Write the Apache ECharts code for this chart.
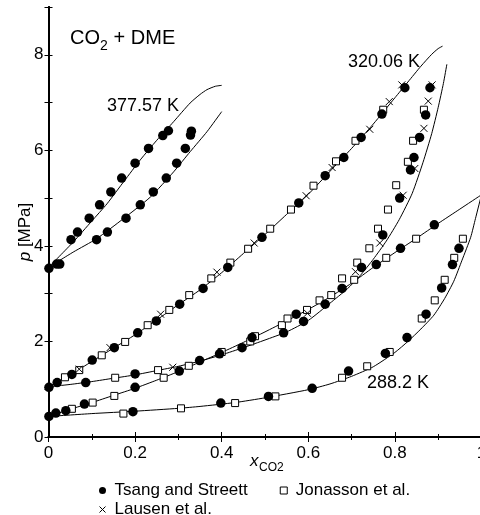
<!DOCTYPE html>
<html>
<head>
<meta charset="utf-8">
<script src="https://cdn.jsdelivr.net/npm/echarts@6/dist/echarts.min.js"></script>
<style>
  html, body { margin: 0; padding: 0; background: #fff; }
  #chart { width: 480px; height: 515px; }
</style>
</head>
<body>
<div id="chart"></div>
<script>
'use strict';

// tick values
var xTicks = [0, 0.2, 0.4, 0.6, 0.8, 1];
var yTicks = [0, 2, 4, 6, 8];

// Tsang and Streett (filled circles), [x_CO2, p MPa]
var tsang = [
  [0.001, 3.53], [0.019, 3.62], [0.026, 3.62],
  [0.052, 4.13], [0.067, 4.29], [0.094, 4.58], [0.118, 4.86], [0.144, 5.13],
  [0.169, 5.42], [0.200, 5.73], [0.231, 6.04], [0.264, 6.31], [0.277, 6.41],
  [0.111, 4.13], [0.136, 4.29], [0.179, 4.58], [0.212, 4.86], [0.242, 5.13],
  [0.272, 5.42], [0.296, 5.73], [0.316, 6.04], [0.328, 6.32], [0.330, 6.40],
  [0.001, 1.04], [0.020, 1.14], [0.054, 1.31], [0.101, 1.61], [0.152, 1.87],
  [0.206, 2.18], [0.249, 2.43], [0.303, 2.78], [0.357, 3.11], [0.414, 3.55],
  [0.493, 4.18], [0.578, 4.90], [0.639, 5.47], [0.682, 5.85], [0.722, 6.27],
  [0.770, 6.76], [0.823, 7.31],
  [0.086, 1.14], [0.200, 1.32], [0.349, 1.60], [0.447, 1.87], [0.543, 2.18],
  [0.589, 2.42], [0.639, 2.78], [0.678, 3.11], [0.723, 3.55], [0.772, 4.23],
  [0.811, 5.00], [0.836, 5.59], [0.844, 5.85], [0.857, 6.27], [0.871, 6.74],
  [0.881, 7.31],
  [0.001, 0.43], [0.017, 0.50], [0.040, 0.55], [0.083, 0.69], [0.200, 1.04],
  [0.302, 1.38], [0.395, 1.74], [0.470, 2.08], [0.572, 2.57], [0.757, 3.61],
  [0.813, 3.95], [0.891, 4.44],
  [0.195, 0.53], [0.398, 0.71], [0.508, 0.85], [0.609, 1.02], [0.693, 1.38],
  [0.778, 1.75], [0.828, 2.08], [0.872, 2.57], [0.908, 3.12], [0.933, 3.61],
  [0.948, 3.95]
];

// Jonasson et al. (open squares)
var jonasson = [
  [0.038, 1.25], [0.071, 1.40], [0.123, 1.71], [0.177, 1.99], [0.229, 2.34],
  [0.279, 2.66], [0.325, 2.97], [0.376, 3.32], [0.420, 3.65], [0.461, 3.94],
  [0.512, 4.36], [0.560, 4.76], [0.612, 5.26], [0.664, 5.77], [0.709, 6.20],
  [0.773, 6.85],
  [0.154, 1.24], [0.253, 1.40], [0.324, 1.49], [0.466, 2.00], [0.539, 2.34],
  [0.552, 2.48], [0.597, 2.66], [0.626, 2.86], [0.653, 2.97], [0.678, 3.32],
  [0.706, 3.29], [0.713, 3.65], [0.741, 3.95], [0.761, 4.36], [0.784, 4.76],
  [0.803, 5.27], [0.830, 5.76], [0.842, 6.20], [0.867, 6.85],
  [0.054, 0.59], [0.102, 0.72], [0.152, 0.86], [0.266, 1.24], [0.400, 1.78],
  [0.477, 2.11], [0.780, 3.75], [0.849, 4.15],
  [0.173, 0.49], [0.306, 0.60], [0.431, 0.71], [0.524, 0.85], [0.678, 1.24],
  [0.736, 1.48], [0.788, 1.78], [0.862, 2.48], [0.892, 2.86], [0.915, 3.29],
  [0.937, 3.75], [0.957, 4.15]
];

// Lausen et al. (crosses)
var lausen = [
  [0.071, 1.42], [0.142, 1.87], [0.259, 2.57], [0.389, 3.45], [0.475, 4.06],
  [0.595, 5.05], [0.655, 5.64], [0.742, 6.44], [0.787, 7.02], [0.816, 7.37],
  [0.287, 1.46], [0.598, 2.59], [0.709, 3.46], [0.765, 4.06], [0.819, 5.06],
  [0.846, 5.62], [0.867, 6.46], [0.877, 7.03], [0.886, 7.37]
];

// model curves
var bubble377 = [[0, 3.55], [0.057, 4.08], [0.10, 4.52], [0.135, 4.88], [0.175, 5.36],
  [0.212, 5.80], [0.25, 6.21], [0.289, 6.60], [0.327, 6.99], [0.35, 7.17],
  [0.366, 7.27], [0.385, 7.34], [0.40, 7.36]];
var dew377 = [[0, 3.55], [0.057, 3.87], [0.111, 4.15], [0.173, 4.57], [0.235, 5.02],
  [0.289, 5.55], [0.327, 5.97], [0.366, 6.39], [0.40, 6.81]];
var bubble320 = [[0, 1.05], [0.05, 1.30], [0.1, 1.58], [0.15, 1.86], [0.2, 2.14],
  [0.25, 2.45], [0.3, 2.77], [0.35, 3.08], [0.4, 3.44], [0.45, 3.84], [0.5, 4.24],
  [0.55, 4.66], [0.6, 5.08], [0.65, 5.56], [0.7, 6.04], [0.75, 6.55], [0.8, 7.10],
  [0.83, 7.43], [0.86, 7.76], [0.885, 8.01], [0.9, 8.13], [0.91, 8.18]];
var dew320 = [[0, 1.05], [0.05, 1.10], [0.1, 1.16], [0.15, 1.23], [0.2, 1.30],
  [0.25, 1.39], [0.3, 1.48], [0.35, 1.59], [0.4, 1.72], [0.45, 1.87], [0.5, 2.03],
  [0.55, 2.20], [0.6, 2.44], [0.65, 2.80], [0.69, 3.10], [0.72, 3.38], [0.75, 3.72],
  [0.78, 4.10], [0.81, 4.55], [0.84, 5.10], [0.865, 5.75], [0.885, 6.35],
  [0.9, 6.9], [0.912, 7.4], [0.92, 7.8]];
var bubble288 = [[0, 0.43], [0.05, 0.58], [0.1, 0.72], [0.15, 0.87], [0.2, 1.02],
  [0.25, 1.19], [0.3, 1.37], [0.35, 1.57], [0.4, 1.77], [0.45, 1.98], [0.5, 2.20],
  [0.55, 2.43], [0.6, 2.67], [0.65, 2.93], [0.7, 3.22], [0.75, 3.55], [0.8, 3.86],
  [0.85, 4.16], [0.9, 4.47], [0.95, 4.77], [1.0, 5.07]];
var dew288 = [[0, 0.43], [0.1, 0.49], [0.2, 0.54], [0.3, 0.60], [0.35, 0.64],
  [0.43, 0.72], [0.5, 0.82], [0.6, 0.99], [0.65, 1.11], [0.7, 1.27], [0.75, 1.47],
  [0.8, 1.77], [0.83, 2.0], [0.86, 2.26], [0.89, 2.55], [0.915, 2.9], [0.936, 3.26],
  [0.955, 3.7], [0.975, 4.18], [0.986, 4.57], [1.0, 5.07]];

var FONT = 'Liberation Sans';
var CROSS = 'path://M0,0L10,10M10,0L0,10';
var SQUARE = 'path://M0,0H10V10H0Z';

var chart = echarts.init(document.getElementById('chart'));

function curve(data) {
  return {
    type: 'line', data: data, showSymbol: false, silent: true,
    smooth: 0.2,
    lineStyle: { color: '#000', width: 1 }, z: 2
  };
}

var xBase = {
  type: 'value', min: 0, max: 1, interval: 0.2,
  axisLine: { lineStyle: { color: '#000', width: 2 } },
  axisTick: { inside: true, length: 5, lineStyle: { color: '#000', width: 1 } },
  minorTick: { show: true, splitNumber: 2, length: 3, lineStyle: { color: '#000', width: 1 } },
  splitLine: { show: false }
};
var yBase = {
  type: 'value', min: 0, max: 9, interval: 1,
  axisLine: { lineStyle: { color: '#000', width: 2 } },
  axisTick: { inside: true, length: 4, lineStyle: { color: '#000', width: 1 } },
  splitLine: { show: false }
};

chart.setOption({
  animation: false,
  backgroundColor: '#fff',
  grid: { left: 48.5, top: 7, width: 433, height: 430, outerBoundsMode: 'none', containLabel: false },
  xAxis: [
    Object.assign({}, xBase, {
      position: 'bottom',
      axisLabel: {
        margin: 8, fontFamily: FONT, fontSize: 17, color: '#000',
        formatter: function(v) { return xTicks.indexOf(v) >= 0 ? String(v) : ''; }
      }
    }),
    Object.assign({}, xBase, { position: 'top', axisLabel: { show: false } })
  ],
  yAxis: [
    Object.assign({}, yBase, {
      position: 'left',
      axisLabel: {
        margin: 5, fontFamily: FONT, fontSize: 17, color: '#000',
        formatter: function(v) { return yTicks.indexOf(v) >= 0 ? String(v) : ''; }
      }
    }),
    Object.assign({}, yBase, { position: 'right', axisLabel: { show: false } })
  ],
  legend: [
    {
      data: [
        { name: 'Tsang and Streett', icon: 'circle' },
        { name: 'Jonasson et al.', icon: SQUARE,
          itemStyle: { color: '#fff', borderColor: '#000', borderWidth: 1 } }
      ],
      left: 94, top: 477, itemWidth: 14, itemHeight: 7, itemGap: 32,
      selectedMode: false,
      textStyle: { fontFamily: FONT, fontSize: 17, color: '#000' }
    },
    {
      data: [
        { name: 'Lausen et al.', icon: CROSS,
          itemStyle: { color: 'transparent', borderColor: '#000', borderWidth: 1 } }
      ],
      left: 94, top: 496, itemWidth: 14, itemHeight: 6,
      selectedMode: false,
      textStyle: { fontFamily: FONT, fontSize: 17, color: '#000' }
    }
  ],
  graphic: [
    { type: 'text', left: 70, top: 28, style: { text: 'CO', fontFamily: FONT, fontSize: 20, fill: '#000' } },
    { type: 'text', left: 100, top: 39, style: { text: '2', fontFamily: FONT, fontSize: 14, fill: '#000' } },
    { type: 'text', left: 108, top: 28, style: { text: ' + DME', fontFamily: FONT, fontSize: 20, fill: '#000' } },
    { type: 'text', left: 107, top: 97, style: { text: '377.57 K', fontFamily: FONT, fontSize: 18, fill: '#000' } },
    { type: 'text', left: 348, top: 53, style: { text: '320.06 K', fontFamily: FONT, fontSize: 18, fill: '#000' } },
    { type: 'text', left: 367, top: 374, style: { text: '288.2 K', fontFamily: FONT, fontSize: 18, fill: '#000' } },
    { type: 'text', left: 250, top: 453, style: { text: 'x', fontFamily: FONT, fontSize: 17, fontStyle: 'italic', fill: '#000' } },
    { type: 'text', left: 259, top: 462, style: { text: 'CO2', fontFamily: FONT, fontSize: 12, fill: '#000' } },
    {
      type: 'text', x: 25, y: 232, rotation: Math.PI / 2,
      style: {
        text: '{i|p} [MPa]', fontFamily: FONT, fontSize: 17, fill: '#000',
        align: 'center', verticalAlign: 'middle',
        rich: {
          i: { fontFamily: FONT, fontSize: 17, fontStyle: 'italic' }
        }
      }
    }
  ],
  series: [
    curve(bubble377), curve(dew377),
    curve(bubble320), curve(dew320),
    curve(bubble288), curve(dew288),
    {
      name: 'Jonasson et al.', type: 'scatter', data: jonasson,
      symbol: 'rect', symbolSize: 7, z: 3,
      itemStyle: { color: '#fff', borderColor: '#000', borderWidth: 1, opacity: 1 }
    },
    {
      name: 'Tsang and Streett', type: 'scatter', data: tsang,
      symbol: 'circle', symbolSize: 9.5, z: 4,
      itemStyle: { color: '#000', opacity: 1 }
    },
    {
      name: 'Lausen et al.', type: 'scatter', data: lausen,
      symbol: CROSS, symbolSize: 7, z: 5,
      itemStyle: { color: 'transparent', borderColor: '#000', borderWidth: 1, opacity: 1 }
    }
  ]
});
</script>
</body>
</html>
